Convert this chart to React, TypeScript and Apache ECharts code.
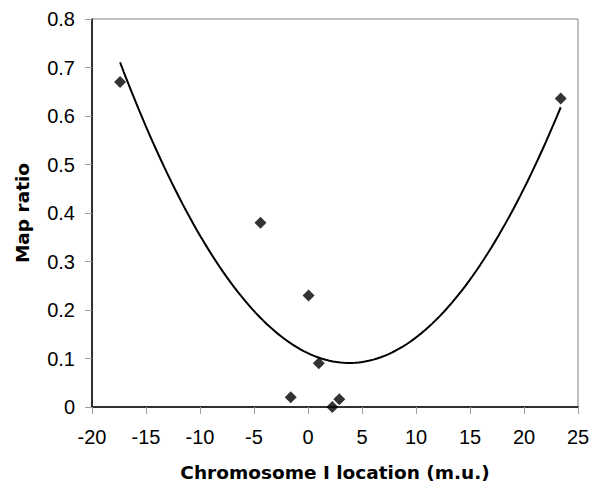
import React, { useEffect, useRef } from "react";
import * as echarts from "echarts";

// Observed data points (chromosome I location in m.u., map ratio)
const locations = [-17.4, -4.4, 0.05, 1.0, -1.6, 2.25, 2.9, 23.4];
const mapRatios = [0.67, 0.38, 0.23, 0.09, 0.02, 0.0, 0.016, 0.636];

const xTicks = { min: -20, max: 25, interval: 5 };
const yTicks = { min: 0, max: 0.8, interval: 0.1 };

const TICK_FONT = "Liberation Sans";
const TITLE_FONT = "DejaVu Sans";

// Second-order polynomial trendline (least squares) of the observed points
function quadraticFit(xs: number[], ys: number[]) {
  const n = xs.length;
  let s1 = 0, s2 = 0, s3 = 0, s4 = 0, t0 = 0, t1 = 0, t2 = 0;
  for (let i = 0; i < n; i++) {
    const x = xs[i], y = ys[i];
    s1 += x; s2 += x * x; s3 += x * x * x; s4 += x * x * x * x;
    t0 += y; t1 += x * y; t2 += x * x * y;
  }
  const M = [
    [n, s1, s2, t0],
    [s1, s2, s3, t1],
    [s2, s3, s4, t2],
  ];
  for (let c = 0; c < 3; c++) {
    let p = c;
    for (let r = c + 1; r < 3; r++) if (Math.abs(M[r][c]) > Math.abs(M[p][c])) p = r;
    [M[c], M[p]] = [M[p], M[c]];
    for (let r = 0; r < 3; r++) {
      if (r === c) continue;
      const f = M[r][c] / M[c][c];
      for (let k = c; k < 4; k++) M[r][k] -= f * M[c][k];
    }
  }
  const c0 = M[0][3] / M[0][0];
  const c1 = M[1][3] / M[1][1];
  const c2 = M[2][3] / M[2][2];
  return (x: number) => c0 + c1 * x + c2 * x * x;
}

function trendline(xs: number[], ys: number[], steps: number) {
  const f = quadraticFit(xs, ys);
  const lo = Math.min(...xs), hi = Math.max(...xs);
  const pts: number[][] = [];
  for (let i = 0; i <= steps; i++) {
    const x = lo + ((hi - lo) * i) / steps;
    pts.push([x, f(x)]);
  }
  return pts;
}

export default function App() {
  const ref = useRef<HTMLDivElement>(null);
  useEffect(() => {
    if (!ref.current) return;
    const chart = echarts.init(ref.current, undefined, { renderer: "svg" });
    chart.setOption({
      animation: false,
      backgroundColor: "#ffffff",
      grid: {
        left: 92,
        right: 22,
        top: 19,
        bottom: 88,
        show: true,
        borderColor: "#808080",
        borderWidth: 1,
        backgroundColor: "transparent",
      },
      xAxis: {
        type: "value",
        min: xTicks.min,
        max: xTicks.max,
        interval: xTicks.interval,
        name: "Chromosome I location (m.u.)",
        nameLocation: "middle",
        nameGap: 56,
        nameTextStyle: { fontFamily: TITLE_FONT, fontSize: 18.5, fontWeight: "bold", color: "#000" },
        axisLine: { show: true, onZero: false, lineStyle: { color: "#000", width: 1.5 } },
        axisTick: { show: true, inside: false, length: 7, lineStyle: { color: "#a0a0a0" } },
        axisLabel: { fontFamily: TICK_FONT, fontSize: 20, color: "#000", margin: 20 },
        splitLine: { show: false },
      },
      yAxis: {
        type: "value",
        min: yTicks.min,
        max: yTicks.max,
        interval: yTicks.interval,
        name: "Map ratio",
        nameLocation: "middle",
        nameGap: 60,
        nameTextStyle: { fontFamily: TITLE_FONT, fontSize: 18.5, fontWeight: "bold", color: "#000" },
        axisLine: { show: true, onZero: false, lineStyle: { color: "#000", width: 1.5 } },
        axisTick: { show: true, inside: false, length: 7, lineStyle: { color: "#a0a0a0" } },
        axisLabel: {
          fontFamily: TICK_FONT,
          fontSize: 20,
          color: "#000",
          margin: 17,
          formatter: (v: number) => (v === 0 ? "0" : v.toFixed(1)),
        },
        splitLine: { show: false },
      },
      series: [
        {
          type: "line",
          data: trendline(locations, mapRatios, 120),
          showSymbol: false,
          symbol: "none",
          lineStyle: { color: "#000", width: 2 },
          z: 2,
        },
        {
          type: "scatter",
          data: locations.map((x, i) => [x, mapRatios[i]]),
          symbol: "diamond",
          symbolSize: 12,
          itemStyle: { color: "#000" },
          z: 3,
        },
      ],
    });
    return () => chart.dispose();
  }, []);
  return (
    <div
      ref={ref}
      style={{ position: "absolute", left: 0, top: 0, width: 600, height: 495 }}
    />
  );
}
